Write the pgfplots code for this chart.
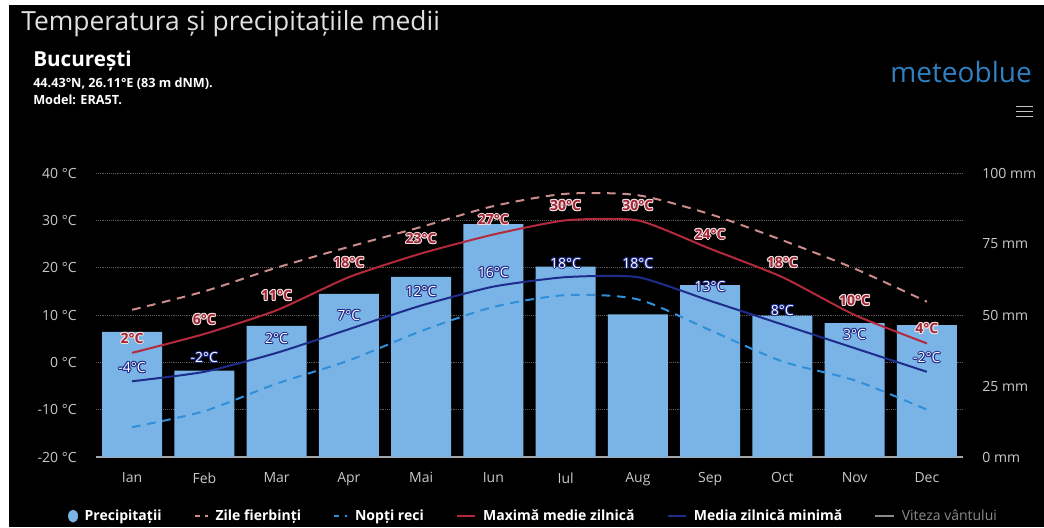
\documentclass[border=0pt]{standalone}
\usepackage{fontspec}
\setmainfont{Open Sans}
\usepackage{pgfplots}
\pgfplotsset{compat=1.18}
\definecolor{barblue}{HTML}{7AB4E6}
\definecolor{maxred}{HTML}{B42A3C}
\definecolor{hotpink}{HTML}{CC8C8C}
\definecolor{minblue}{HTML}{1E2C8C}
\definecolor{coldblue}{HTML}{2F8FD8}
\definecolor{ticktext}{HTML}{C8C8C8}
\definecolor{titletext}{HTML}{E0E0E0}
\definecolor{mbblue}{HTML}{2F7FC1}
\definecolor{windgray}{HTML}{8A8A8A}
\definecolor{gridgray}{HTML}{5A5A5A}
\definecolor{redhalo}{HTML}{F4E0E0}

% text with a thin outline
\newcommand\halo[3]{\leavevmode
  \rlap{\kern.8pt\textcolor{#2}{#3}}\rlap{\kern-.8pt\textcolor{#2}{#3}}%
  \rlap{\raisebox{.8pt}{\textcolor{#2}{#3}}}\rlap{\raisebox{-.8pt}{\textcolor{#2}{#3}}}%
  \rlap{\kern.57pt\raisebox{.57pt}{\textcolor{#2}{#3}}}\rlap{\kern-.57pt\raisebox{.57pt}{\textcolor{#2}{#3}}}%
  \rlap{\kern.57pt\raisebox{-.57pt}{\textcolor{#2}{#3}}}\rlap{\kern-.57pt\raisebox{-.57pt}{\textcolor{#2}{#3}}}%
  \textcolor{#1}{#3}}

\pgfplotsset{
  meteo/.style={
    at={(O)}, anchor=south west, scale only axis,
    width=650.25pt, height=213pt,
    xmin=-0.5, xmax=11.5,
    /pgf/number format/assume math mode=true,
    tick label style={text=ticktext, font=\fontsize{10.5}{12}\selectfont},
    major tick length=0pt,
  },
}

\begin{document}
\begin{tikzpicture}
\begin{scope}[x=0.75pt, y=-0.75pt]
  \fill[white] (0,0) rectangle (1044,527);
  \fill[black] (9,5) rectangle (1044,527);
  \node[anchor=base west, inner sep=0, text=titletext, font=\fontsize{19.8}{23}\selectfont] at (21,31) {Temperatura și precipitațiile medii};
  \node[anchor=base west, inner sep=0, text=white, font=\bfseries\fontsize{15.5}{18}\selectfont] at (33,66) {București};
  \node[anchor=base west, inner sep=0, text=white, font=\bfseries\fontsize{9.5}{11}\selectfont] at (33,87) {44.43°N, 26.11°E (83 m dNM).};
  \node[anchor=base west, inner sep=0, text=white, font=\bfseries\fontsize{9.5}{11}\selectfont] at (33,104) {Model: ERA5T.};
  \node[anchor=base east, inner sep=0, text=mbblue, font=\fontsize{21}{24}\selectfont] at (1032,82) {meteoblue};
  \foreach \yy in {106,111,116} \draw[gray!45, line width=0.7pt] (1016,\yy) -- (1033,\yy);
  \coordinate (O) at (96,457);
\end{scope}

% temperature scale and grid
\begin{axis}[meteo,
  ymin=-20, ymax=40, ytick={-20,-10,...,40},
  yticklabel={\pgfmathprintnumber{\tick} °C},
  yticklabel style={xshift=-11pt},
  xtick={0,...,11},
  xticklabels={Ian,Feb,Mar,Apr,Mai,Iun,Iul,Aug,Sep,Oct,Nov,Dec},
  xticklabel style={yshift=-8pt},
  axis x line*=bottom, axis y line*=left,
  x axis line style={gray!70, line width=0.8pt, -},
  y axis line style={draw=none},
  ymajorgrids, grid style={gridgray, densely dotted, line width=0.6pt},
]
\end{axis}

% precipitation
\begin{axis}[meteo,
  ymin=0, ymax=100, ytick={0,25,...,100},
  yticklabel={\pgfmathprintnumber{\tick} mm},
  yticklabel style={xshift=11pt},
  axis y line*=right, axis x line=none,
  y axis line style={draw=none},
  ybar, bar width=0.83,
]
\addplot[fill=barblue, draw=none] coordinates {
  (0,44.1) (1,30.4) (2,46.2) (3,57.4) (4,63.4) (5,82.0)
  (6,67.0) (7,50.2) (8,60.5) (9,49.8) (10,47.1) (11,46.4)
};
\end{axis}

% temperatures
\begin{axis}[meteo,
  ymin=-20, ymax=40, hide axis, clip=false,
  legend columns=6,
  legend style={at={(0.505,-0.208)}, anchor=center, draw=none, fill=none,
    text=white, font=\bfseries\fontsize{10.5}{12}\selectfont,
    /tikz/every even column/.append style={column sep=22pt},
    /tikz/every odd column/.append style={column sep=3pt}},
]
\addlegendimage{only marks, mark=*, mark size=4.2pt, barblue,
  legend image code/.code={\fill[barblue] (5pt,0pt) ellipse (3.5pt and 4.6pt);}}
\addlegendentry{Precipitații}

\addplot[hotpink, line width=1.5pt, dash pattern=on 6.5pt off 5pt, smooth, tension=0.45,
  legend image code/.code={\draw[hotpink, line width=1.5pt] (0pt,0pt) -- (4pt,0pt); \draw[hotpink, line width=1.5pt] (8pt,0pt) -- (10pt,0pt);}]
  coordinates {
  (0,11.1) (1,15.0) (2,20.0) (3,24.4) (4,28.6) (5,33.0)
  (6,35.6) (7,35.3) (8,31.3) (9,25.8) (10,19.8) (11,12.8)
};
\addlegendentry{Zile fierbinți}

\addplot[coldblue, line width=1.5pt, dash pattern=on 6.5pt off 5pt, smooth, tension=0.45,
  legend image code/.code={\draw[coldblue, line width=1.5pt] (0pt,0pt) -- (4pt,0pt); \draw[coldblue, line width=1.5pt] (8pt,0pt) -- (10pt,0pt);}]
  coordinates {
  (0,-13.7) (1,-10.3) (2,-4.5) (3,0.4) (4,6.6) (5,11.7)
  (6,14.2) (7,13.3) (8,6.8) (9,0.2) (10,-3.8) (11,-10.0)
};
\addlegendentry{Nopți reci}

\addplot[maxred, line width=1.5pt, smooth, tension=0.35,
  legend image code/.code={\draw[maxred, line width=1.5pt] (0pt,0pt) -- (14pt,0pt);},
  nodes near coords={\halo{maxred!90!black}{redhalo}{\pgfmathprintnumber{\pgfplotspointmeta}°C}},
  every node near coord/.append style={anchor=center, yshift=11pt,
    font=\bfseries\fontsize{10.5}{12}\selectfont}]
  coordinates {
  (0,2) (1,6) (2,11) (3,18) (4,23) (5,27)
  (6,30) (7,30) (8,24) (9,18) (10,10) (11,4)
};
\addlegendentry{Maximă medie zilnică}

\addplot[minblue, line width=1.5pt, smooth, tension=0.35,
  legend image code/.code={\draw[minblue, line width=1.5pt] (0pt,0pt) -- (14pt,0pt);},
  nodes near coords={\halo{white}{minblue}{\pgfmathprintnumber{\pgfplotspointmeta}°C}},
  every node near coord/.append style={anchor=center, yshift=10.5pt,
    font=\fontsize{10.5}{12}\selectfont}]
  coordinates {
  (0,-4) (1,-2) (2,2) (3,7) (4,12) (5,16)
  (6,18) (7,18) (8,13) (9,8) (10,3) (11,-2)
};
\addlegendentry{Media zilnică minimă}

\addlegendimage{windgray, line width=1.5pt,
  legend image code/.code={\draw[windgray, line width=1.5pt] (0pt,0pt) -- (14pt,0pt);}}
\addlegendentry{\textcolor{windgray}{\mdseries Viteza vântului}}
\end{axis}
\end{tikzpicture}
\end{document}
